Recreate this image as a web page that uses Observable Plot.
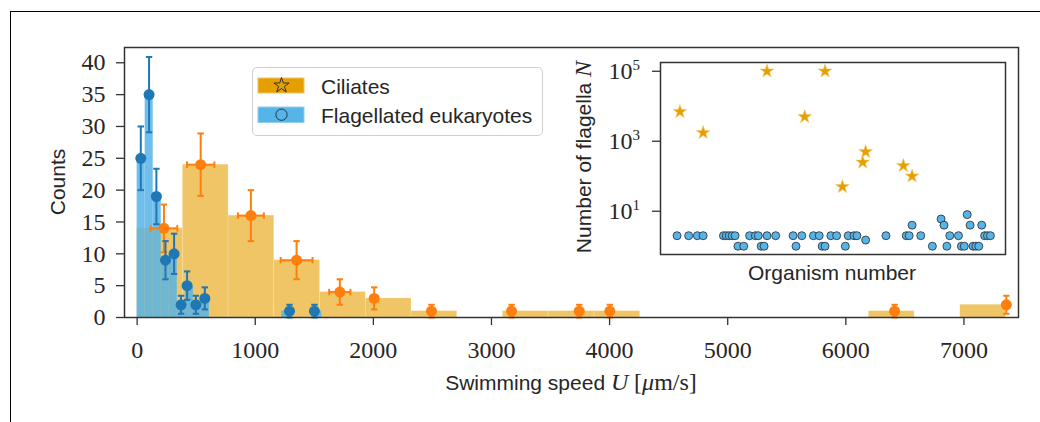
<!DOCTYPE html>
<html><head><meta charset="utf-8">
<script src="https://cdn.jsdelivr.net/npm/d3@7"></script>
<script src="https://cdn.jsdelivr.net/npm/@observablehq/plot@0.6"></script>
<style>
html,body{margin:0;padding:0;background:#fff;overflow:hidden;width:1040px;height:422px;}
#wrap{position:relative;width:1040px;height:422px;overflow:hidden;}
.abs{position:absolute;left:0;top:0;}
.lbl{position:absolute;white-space:nowrap;color:#262626;font-family:"Liberation Sans",Arial,sans-serif;font-size:21px;line-height:1;}
.serif{font-family:"Liberation Serif","DejaVu Serif",serif;font-size:24px;}
#frame{position:absolute;left:10px;top:11px;width:2000px;height:2000px;border-left:1px solid #000;border-top:1px solid #000;}
#legend{position:absolute;left:252px;top:67px;width:289px;height:67px;border:1.5px solid #d0d0d0;border-radius:5px;background:rgba(255,255,255,0.85);}
</style></head><body><div id="wrap"><div id="frame"></div></div>
<script>
// ---------- data: histogram bins (swimming speed, µm/s) ----------
const ciliateBinEdges = [0, 387, 774, 1161, 1549, 1936, 2323, 2710, 3097, 3484, 3872, 4259, 4646, 5033, 5420, 5807, 6195, 6582, 6969, 7356];
const ciliateBinCounts = [14, 24, 16, 9, 4, 3, 1, 0, 1, 1, 1, 0, 0, 0, 0, 0, 1, 0, 2];
const flagBinEdges = [0, 68, 136, 204, 272, 340, 408, 476, 544, 612, 680, 748, 816, 884, 952, 1020, 1088, 1156, 1224, 1292, 1360, 1428, 1496, 1564];
const flagBinCounts = [25, 35, 19, 9, 10, 2, 5, 2, 3, 0, 0, 0, 0, 0, 0, 0, 0, 0, 1, 0, 0, 0, 1];

// ---------- data: binned means with error bars ----------
const ciliateMeanSpeed = [227, 538, 963, 1350, 1716, 2007, 2492, 3170, 3743, 4002, 6413, 7359];
const ciliateCounts    = [14, 24, 16, 9, 4, 3, 1, 1, 1, 1, 1, 2];
const ciliateSpeedSd   = [113, 116, 110, 135, 90, 30, 0, 0, 0, 0, 0, 5];
const flagMeanSpeed = [31, 101, 163, 240, 313, 372, 423, 497, 573, 1290, 1501];
const flagCounts    = [25, 35, 19, 9, 10, 2, 5, 2, 3, 1, 1];

const xTicks = [0, 1000, 2000, 3000, 4000, 5000, 6000, 7000];
const yTicks = [0, 5, 10, 15, 20, 25, 30, 35, 40];

// ---------- inset data: number of flagella per organism ----------
const ciliateOrganism = [2, 10, 32, 45, 52, 58, 65, 66, 79, 82];
const ciliateFlagella = [7000, 1750, 100000, 5000, 100000, 50, 250, 500, 200, 100];
const flagOrganism = [1, 5, 8, 10, 17, 18, 19, 20, 21, 22, 24, 26, 28, 29, 30, 31, 32, 35, 41, 42, 44, 48, 50, 51, 52, 54, 56, 59, 60, 62, 63, 66, 73, 80, 81, 82, 85, 89, 92, 93, 94, 95, 98, 99, 100, 101, 102, 103, 104, 105, 106, 107, 108, 109];
const flagFlagella = [2, 2, 2, 2, 2, 2, 2, 2, 2, 1, 1, 2, 2, 2, 1, 1, 2, 2, 2, 1, 2, 2, 2, 1, 1, 2, 2, 1, 2, 2, 2, 1.5, 2, 2, 2, 4, 2, 1, 6, 4, 1, 2, 2, 1, 1, 8, 4, 1, 1, 1, 4, 2, 2, 2];
const insetTicks = [10, 1000, 100000];
const insetTickExp = ["1", "3", "5"];

const legendLabels = ["Ciliates", "Flagellated eukaryotes"];

// ---------- build tables ----------
const binsFrom = (edges, counts) => counts.map((c, i) => ({lo: edges[i], hi: edges[i + 1], count: c})).filter(d => d.count > 0);
const cilBins = binsFrom(ciliateBinEdges, ciliateBinCounts);
const flagBins = binsFrom(flagBinEdges, flagBinCounts);
const cilPts = ciliateMeanSpeed.map((x, i) => ({x, y: ciliateCounts[i], e: Math.sqrt(ciliateCounts[i]), sd: ciliateSpeedSd[i]}));
const flagPts = flagMeanSpeed.map((x, i) => ({x, y: flagCounts[i], e: Math.sqrt(flagCounts[i])}));
const cilInset = ciliateOrganism.map((o, i) => ({o, n: ciliateFlagella[i]}));
const flagInset = flagOrganism.map((o, i) => ({o, n: flagFlagella[i]}));

const hcap = {draw(ctx, size) { const r = Math.sqrt(size / Math.PI); ctx.moveTo(-r, 0); ctx.lineTo(r, 0); }};
const vcap = {draw(ctx, size) { const r = Math.sqrt(size / Math.PI); ctx.moveTo(0, -r); ctx.lineTo(0, r); }};

const ORANGE_BAR = "#E69F00", BLUE_BAR = "#56B4E9", ORANGE_PT = "#ff7f0e", BLUE_PT = "#1f77b4";

function errMarks(pts, color, withX) {
  const m = [
    Plot.ruleX(pts, {x: "x", y1: d => d.y - d.e, y2: d => d.y + d.e, stroke: color, strokeWidth: 2}),
    Plot.dot(pts, {x: "x", y: d => d.y - d.e, symbol: hcap, r: 3.2, stroke: color, strokeWidth: 2}),
    Plot.dot(pts, {x: "x", y: d => d.y + d.e, symbol: hcap, r: 3.2, stroke: color, strokeWidth: 2})
  ];
  if (withX) {
    const px = pts.filter(d => d.sd > 0);
    m.push(
      Plot.ruleY(px, {y: "y", x1: d => d.x - d.sd, x2: d => d.x + d.sd, stroke: color, strokeWidth: 2}),
      Plot.dot(px, {x: d => d.x - d.sd, y: "y", symbol: vcap, r: 3.2, stroke: color, strokeWidth: 2}),
      Plot.dot(px, {x: d => d.x + d.sd, y: "y", symbol: vcap, r: 3.2, stroke: color, strokeWidth: 2})
    );
  }
  m.push(Plot.dot(pts, {x: "x", y: "y", r: 5.5, fill: color}));
  return m;
}

const main = Plot.plot({
  width: 1040, height: 422,
  marginLeft: 124, marginRight: 22, marginTop: 47, marginBottom: 105,
  style: {fontFamily: '"Liberation Serif", serif', fontSize: "24px", color: "#262626", background: "transparent", overflow: "visible"},
  x: {domain: [-107, 7462], axis: null},
  y: {domain: [0, 42.4], axis: null},
  marks: [
    Plot.rect(cilBins, {x1: "lo", x2: "hi", y1: 0, y2: "count", fill: ORANGE_BAR, fillOpacity: 0.6, stroke: "#fff", strokeOpacity: 0.25, strokeWidth: 0.8}),
    Plot.rect(flagBins, {x1: "lo", x2: "hi", y1: 0, y2: "count", fill: BLUE_BAR, fillOpacity: 0.85}),
    ...errMarks(cilPts, ORANGE_PT, true),
    ...errMarks(flagPts, BLUE_PT, false),
    Plot.axisX({ticks: xTicks, tickSize: 8, tickPadding: 15, tickFormat: d => String(d), stroke: "#333", strokeWidth: 1.3, fill: "#262626", label: null}),
    Plot.axisY({ticks: yTicks, tickSize: 8, tickPadding: 11, tickFormat: d => String(d), stroke: "#333", strokeWidth: 1.3, fill: "#262626", label: null}),
    Plot.frame({stroke: "#333", strokeWidth: 1.5})
  ]
});
main.classList.add("abs");
document.getElementById("wrap").appendChild(main);

const inset = Plot.plot({
  width: 450, height: 240,
  marginLeft: 100, marginRight: 5, marginTop: 12, marginBottom: 36,
  style: {fontFamily: '"Liberation Serif", serif', fontSize: "24px", color: "#262626", background: "transparent", overflow: "visible"},
  x: {domain: [-4.7, 114.2], axis: null},
  y: {type: "log", domain: [0.58, 1.78e5], axis: null},
  marks: [
    Plot.frame({fill: "white"}),
    Plot.dot(cilInset, {x: "o", y: "n", symbol: "star", r: 4.3, fill: ORANGE_BAR, stroke: "#f3c969", strokeWidth: 0.6}),
    Plot.dot(flagInset, {x: "o", y: "n", r: 4, fill: BLUE_BAR, stroke: "#2a2a2a", strokeWidth: 0.8}),
    Plot.axisY({ticks: insetTicks, tickSize: 8, tickPadding: 20, tickFormat: () => "10", stroke: "#333", strokeWidth: 1.3, fill: "#262626", label: null}),
    Plot.text(insetTicks, {y: d => d, frameAnchor: "left", dx: -28, dy: -6, text: d => insetTickExp[insetTicks.indexOf(d)], textAnchor: "start", fontSize: 15, fill: "#262626"}),
    Plot.frame({stroke: "#333", strokeWidth: 1.5})
  ]
});
inset.classList.add("abs");
inset.style.left = "560px"; inset.style.top = "50px";
document.getElementById("wrap").appendChild(inset);

// ---------- labels ----------
const wrap = document.getElementById("wrap");
function addLabel(html, x, y, rot) {
  const d = document.createElement("div");
  d.className = "lbl";
  d.innerHTML = html;
  d.style.left = x + "px"; d.style.top = y + "px";
  d.style.transform = "translate(-50%,-50%)" + (rot ? " rotate(-90deg)" : "");
  wrap.appendChild(d);
}
addLabel('Swimming speed <span class="serif" style="font-style:italic">U</span> <span class="serif">[<i>μ</i>m/s]</span>', 571, 382, false);
addLabel('Counts', 57, 182, true);
addLabel('Number of flagella <span class="serif" style="font-style:italic">N</span>', 583, 157, true);
addLabel('Organism number', 832, 272, false);

// ---------- legend ----------
const lg = document.createElement("div");
lg.id = "legend";
const starPath = d3.symbol(d3.symbolStar, 72)();
const circPath = d3.symbol(d3.symbolCircle, 100)();
lg.innerHTML = `
<svg width="289" height="67" style="position:absolute;left:0;top:0">
  <rect x="5" y="10" width="46" height="15" fill="${ORANGE_BAR}" stroke="#f2c25a" stroke-width="1"/>
  <path d="${starPath}" transform="translate(28.5,17.5)" fill="none" stroke="#333" stroke-width="1"/>
  <rect x="5" y="39" width="46" height="15.5" fill="${BLUE_BAR}" stroke="#8fd0f2" stroke-width="1"/>
  <path d="${circPath}" transform="translate(28.5,46.7)" fill="none" stroke="#333" stroke-width="1"/>
</svg>
<div class="lbl" style="left:68px;top:17.5px;transform:translateY(-50%)">${legendLabels[0]}</div>
<div class="lbl" style="left:68px;top:46.7px;transform:translateY(-50%)">${legendLabels[1]}</div>`;
wrap.appendChild(lg);
</script></body></html>
